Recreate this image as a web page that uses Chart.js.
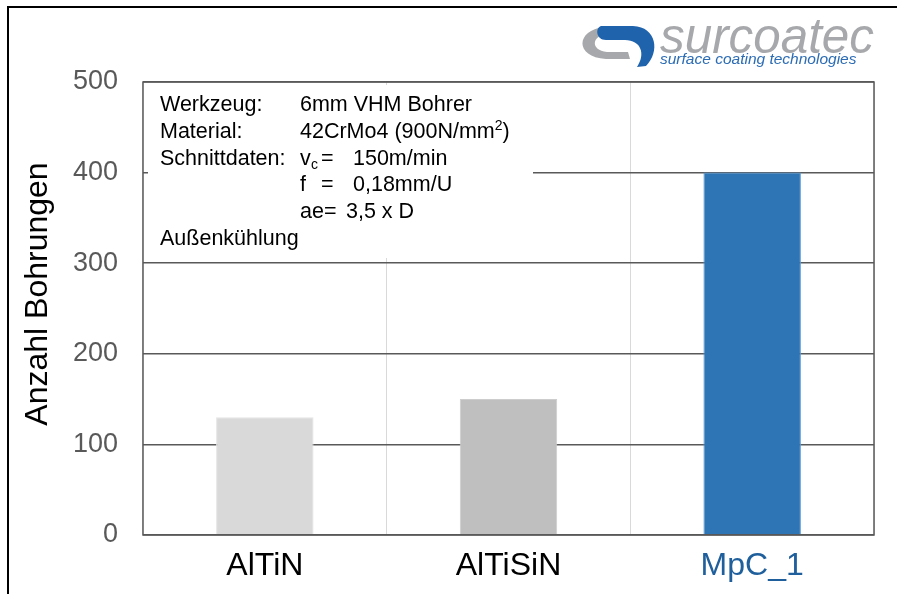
<!DOCTYPE html>
<html>
<head>
<meta charset="utf-8">
<script src="https://cdn.jsdelivr.net/npm/chart.js@4"></script>
<style>
  body { margin: 0; background: #fff; }
  canvas { display: block; }
</style>
</head>
<body>
<canvas id="myChart" width="897" height="594"></canvas>
<script>
const categories = ["AlTiN", "AlTiSiN", "MpC_1"];
const bohrungen = [130, 150, 400];
const barColors = ["#d9d9d9", "#bfbfbf", "#2e75b6"];
const labelColors = ["#000000", "#000000", "#1f5f9c"];
const yMin = 0;
const yMax = 500;
const yStep = 100;
const yTitle = "Anzahl Bohrungen";

const fontFamily = "'Liberation Sans', Arial, sans-serif";

// info box, y title, frame, outer border and logo
const extras = {
  id: "extras",
  beforeDatasetsDraw(chart) {
    const ctx = chart.ctx;
    ctx.save();
    ctx.fillStyle = "#fff";
    ctx.fillRect(148, 85, 385, 173);

    ctx.fillStyle = "#000";
    ctx.textBaseline = "alphabetic";
    const big = "21.5px " + fontFamily;
    const small = "14px " + fontFamily;
    ctx.font = big;
    const x1 = 160, x2 = 300, lh = 26.8;
    let y = 111;
    ctx.fillText("Werkzeug:", x1, y);
    ctx.fillText("6mm VHM Bohrer", x2, y);
    y += lh;
    ctx.fillText("Material:", x1, y);
    let w = ctx.measureText("42CrMo4 (900N/mm").width;
    ctx.fillText("42CrMo4 (900N/mm", x2, y);
    ctx.font = small;
    ctx.fillText("2", x2 + w, y - 8);
    let w2 = ctx.measureText("2").width;
    ctx.font = big;
    ctx.fillText(")", x2 + w + w2, y);
    y += lh;
    ctx.fillText("Schnittdaten:", x1, y);
    ctx.fillText("v", x2, y);
    ctx.font = small;
    ctx.fillText("c", x2 + 11, y + 4);
    ctx.font = big;
    ctx.fillText("=", 321, y);
    ctx.fillText("150m/min", 353, y);
    y += lh;
    ctx.fillText("f", x2, y);
    ctx.fillText("=", 321, y);
    ctx.fillText("0,18mm/U", 353, y);
    y += lh;
    ctx.fillText("ae=", x2, y);
    ctx.fillText("3,5 x D", 346, y);
    y += lh;
    ctx.fillText("Außenkühlung", x1, y);
    ctx.restore();
  },
  afterDraw(chart) {
    const ctx = chart.ctx;
    const a = chart.chartArea;
    ctx.save();
    // plot frame
    ctx.strokeStyle = "#595959";
    ctx.lineWidth = 1.5;
    ctx.strokeRect(a.left, a.top, a.right - a.left, a.bottom - a.top);
    // outer border
    ctx.strokeStyle = "#000";
    ctx.lineWidth = 2;
    ctx.beginPath();
    ctx.moveTo(8, 594);
    ctx.lineTo(8, 7);
    ctx.lineTo(897, 7);
    ctx.stroke();

    // y axis title
    ctx.save();
    ctx.translate(38, 294);
    ctx.rotate(-Math.PI / 2);
    ctx.font = "32px " + fontFamily;
    ctx.fillStyle = "#000";
    ctx.textAlign = "center";
    ctx.textBaseline = "middle";
    ctx.fillText(yTitle, 0, 0);
    ctx.restore();

    // logo
    ctx.fillStyle = "#a6a8ab";
    ctx.beginPath();
    ctx.moveTo(604, 27);
    ctx.bezierCurveTo(576, 30, 574, 57, 606, 59);
    ctx.lineTo(630, 59);
    ctx.lineTo(628, 52);
    ctx.lineTo(607, 52);
    ctx.bezierCurveTo(590, 50, 592, 36, 606, 34);
    ctx.closePath();
    ctx.fill();
    ctx.fillStyle = "#1f63ad";
    ctx.beginPath();
    ctx.moveTo(601, 26);
    ctx.lineTo(633, 26);
    ctx.bezierCurveTo(657, 27, 660, 52, 646, 66);
    ctx.lineTo(637, 67);
    ctx.bezierCurveTo(646, 54, 641, 40, 625, 40);
    ctx.lineTo(606, 40);
    ctx.bezierCurveTo(596, 40, 595, 28, 601, 26);
    ctx.closePath();
    ctx.fill();

    ctx.font = "italic 50px " + fontFamily;
    ctx.fillStyle = "#a6a8ab";
    ctx.fillText("surcoatec", 660, 53, 214);
    ctx.font = "italic 15.5px " + fontFamily;
    ctx.fillStyle = "#2b6cb5";
    ctx.fillText("surface coating technologies", 660, 64, 202);
    ctx.restore();
  }
};

new Chart("myChart", {
  type: "bar",
  data: {
    labels: categories,
    datasets: [
      {
        data: bohrungen,
        backgroundColor: barColors,
        borderColor: ["#e4e4e4", "#cdcdcd", "#5b9bd5"],
        borderWidth: 1,
        barPercentage: 0.4,
        categoryPercentage: 1.0,
      },
    ],
  },
  options: {
    responsive: false,
    animation: false,
    layout: { padding: { top: 82, right: 23, left: 0, bottom: 0 } },
    plugins: {
      legend: { display: false },
      tooltip: { enabled: false },
    },
    scales: {
      x: {
        grid: { offset: true, color: "#d9d9d9", lineWidth: 1, drawTicks: false },
        border: { display: false },
        ticks: {
          color: labelColors,
          padding: 12,
          font: { family: fontFamily, size: 32 },
        },
        afterFit(scale) { scale.height = 59; },
      },
      y: {
        min: yMin,
        max: yMax,
        grid: { color: "#595959", lineWidth: 1.5, drawTicks: false },
        border: { display: false },
        ticks: {
          stepSize: yStep,
          color: "#595959",
          padding: 25,
          font: { family: fontFamily, size: 27 },
        },
        afterFit(scale) { scale.width = 143; },
      },
    },
  },
  plugins: [extras],
});
</script>
</body>
</html>
